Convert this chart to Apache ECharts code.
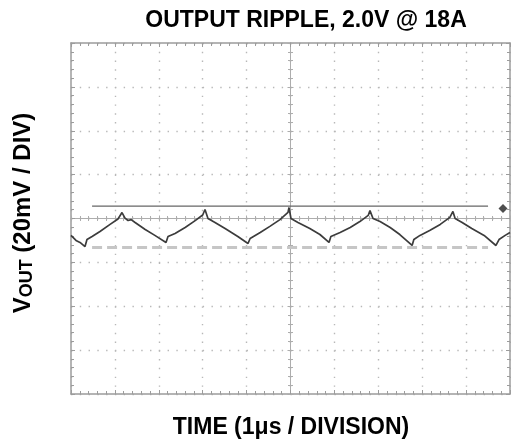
<!DOCTYPE html>
<html>
<head>
<meta charset="utf-8">
<script src="https://cdn.jsdelivr.net/npm/echarts@6/dist/echarts.min.js"></script>
<style>
html,body{margin:0;padding:0;background:#fff;}
#c{width:511px;height:440px;}
</style>
</head>
<body>
<div id="c"></div>
<script>
// time in microseconds relative to screen centre, voltage in mV relative to centre line
const timeUs = [-5.0,-4.886,-4.795,-4.681,-4.636,-4.52,-4.34,-4.11,-3.93,-3.838,-3.77,-3.70,-3.63,-3.54,-3.31,-3.09,-2.836,-2.79,-2.63,-2.40,-2.18,-2.0,-1.948,-1.88,-1.72,-1.49,-1.20,-0.968,-0.92,-0.69,-0.47,-0.24,-0.057,-0.034,0.011,0.17,0.44,0.67,0.877,0.92,1.13,1.36,1.58,1.77,1.81,1.88,2.04,2.27,2.49,2.77,2.81,2.95,3.18,3.41,3.63,3.70,3.75,3.91,4.13,4.41,4.68,4.75,4.89,5.0];
const rippleMv = [-7.7,-10.0,-10.9,-12.8,-9.6,-8.2,-5.9,-2.7,-0.2,2.7,0.2,-0.9,-0.5,-1.8,-5.0,-7.7,-10.9,-8.2,-6.8,-4.1,-1.1,1.6,4.1,0.0,-1.8,-4.6,-8.2,-11.4,-9.1,-6.4,-3.6,-0.5,2.8,5.0,0.0,-1.8,-4.6,-7.3,-10.9,-8.2,-6.4,-4.1,-1.4,1.4,3.6,0.0,-1.4,-4.1,-7.3,-12.3,-9.6,-7.7,-5.4,-2.7,0.5,3.2,0.0,-1.8,-4.6,-7.7,-12.3,-9.6,-7.7,-6.4];
const cursorT = [-4.52, 4.50];
const upperCursorMv = 5.6;
const lowerCursorMv = -13.2;
const markerPoint = [4.84, 4.6];
const xRange = [-5, 5];   // 10 divisions of 1 us
const yRange = [-80, 80]; // 8 divisions of 20 mV

const chart = echarts.init(document.getElementById('c'), null, {renderer: 'canvas'});
const FONT = '"Liberation Sans", Arial, Helvetica, sans-serif';
const borderColor = '#9c9c9c';
const centerColor = '#adadad';
const dotColor = '#b8b8b8';

function borderAxis(extra) {
  return Object.assign({
    type: 'value',
    axisLine: {show: true, onZero: false, lineStyle: {color: borderColor, width: 1.5}},
    axisTick: {show: true, inside: true, length: 4, lineStyle: {color: borderColor}},
    minorTick: {show: true, splitNumber: 5, length: 3, lineStyle: {color: borderColor}},
    axisLabel: {show: false}, splitLine: {show: false}
  }, extra);
}
function centerAxis(extra, inside) {
  return Object.assign({
    type: 'value',
    axisLine: {show: true, onZero: true, onZeroAxisIndex: 0, lineStyle: {color: centerColor, width: 1}},
    axisTick: {show: true, inside: inside, length: 3, lineStyle: {color: centerColor}},
    minorTick: {show: true, splitNumber: 5, length: 2.5, lineStyle: {color: centerColor}},
    axisLabel: {show: false}
  }, extra);
}

const xs = {min: xRange[0], max: xRange[1], interval: 1};
const ys = {min: yRange[0], max: yRange[1], interval: 20};

const option = {
  animation: false,
  backgroundColor: '#fff',
  grid: {left: 71, top: 43, right: 1, bottom: 46},
  xAxis: [
    centerAxis(Object.assign({position: 'bottom', splitLine: {show: true, lineStyle: {color: dotColor, width: 1.4, type: [1.4, 7.38]}}}, xs), false),
    centerAxis(Object.assign({position: 'bottom', splitLine: {show: false}}, xs), true),
    borderAxis(Object.assign({position: 'top'}, xs)),
    borderAxis(Object.assign({position: 'bottom'}, xs))
  ],
  yAxis: [
    centerAxis(Object.assign({position: 'left', splitLine: {show: true, lineStyle: {color: dotColor, width: 1.4, type: [1.4, 7.38]}}}, ys), false),
    centerAxis(Object.assign({position: 'left', splitLine: {show: false}}, ys), true),
    borderAxis(Object.assign({position: 'left'}, ys)),
    borderAxis(Object.assign({position: 'right'}, ys))
  ],
  series: [
    {
      type: 'line', xAxisIndex: 0, yAxisIndex: 0, showSymbol: false, silent: true,
      data: cursorT.map(t => [t, lowerCursorMv]),
      lineStyle: {color: '#c6c6c6', width: 3, type: [10, 5]}
    },
    {
      type: 'line', xAxisIndex: 0, yAxisIndex: 0, showSymbol: false, silent: true,
      data: cursorT.map(t => [t, upperCursorMv]),
      lineStyle: {color: '#666', width: 1.2}
    },
    {
      type: 'line', xAxisIndex: 0, yAxisIndex: 0, showSymbol: false, silent: true,
      data: timeUs.map((t, i) => [t, rippleMv[i]]),
      lineStyle: {color: '#3c3c3c', width: 1.7}
    },
    {
      type: 'scatter', xAxisIndex: 0, yAxisIndex: 0, silent: true,
      data: [markerPoint], symbol: 'diamond', symbolSize: 9,
      itemStyle: {color: '#222'}
    }
  ],
  graphic: [
    {type: 'text', x: 306, y: 21, silent: true,
     style: {text: 'OUTPUT RIPPLE, 2.0V @ 18A', font: 'bold 23px ' + FONT, fill: '#000', align: 'center', verticalAlign: 'middle'}},
    {type: 'text', x: 291, y: 428, silent: true,
     style: {text: 'TIME (1\u03bcs / DIVISION)', font: 'bold 23px ' + FONT, fill: '#000', align: 'center', verticalAlign: 'middle'}},
    {type: 'text', x: 23, y: 213, rotation: Math.PI / 2, silent: true,
     style: {text: '{v|V}{s|OUT}{n| (20mV / DIV)}', align: 'center', verticalAlign: 'middle', fill: '#000',
       rich: {
         v: {font: 'bold 24px ' + FONT, lineHeight: 27, fill: '#000'},
         s: {font: 'bold 18px ' + FONT, lineHeight: 18, padding: [8, 0, 0, 0], fill: '#000'},
         n: {font: 'bold 24px ' + FONT, lineHeight: 27, fill: '#000'}
       }}}
  ]
};
chart.setOption(option);
</script>
</body>
</html>
